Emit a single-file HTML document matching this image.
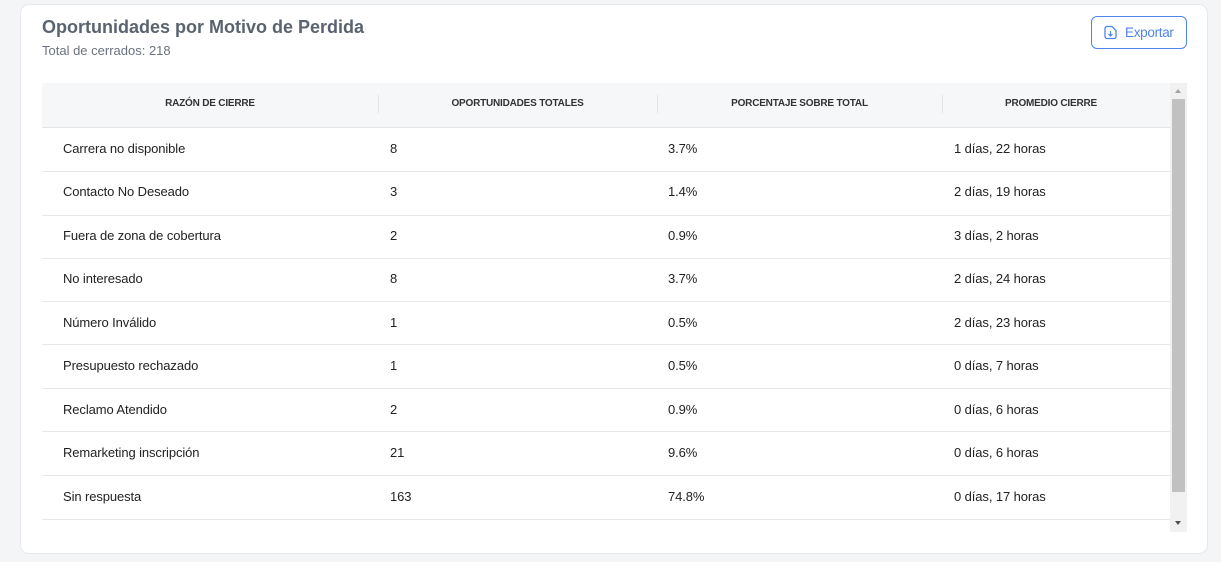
<!DOCTYPE html>
<html><head><meta charset="utf-8"><style>
body{margin:0;width:1221px;height:562px;background:#f4f5f7;font-family:"Liberation Sans",sans-serif;position:relative;overflow:hidden}
.card{position:absolute;left:20px;top:4px;width:1188px;height:550px;background:#fff;border:1px solid #e6e8eb;border-radius:9px;box-sizing:border-box}
.t{position:absolute;left:42px;top:17px;font-size:18px;font-weight:bold;color:#5a6470}
.s{position:absolute;left:42px;top:43px;font-size:13px;color:#6b7380}
.btn{position:absolute;left:1091px;top:16px;width:96px;height:33px;border:1px solid #4e86ee;border-radius:6px;box-sizing:border-box;color:#4e86ee;font-size:13.5px}
.btn span{position:absolute;left:33px;top:8px;letter-spacing:-0.3px}
.hd{position:absolute;left:42px;top:83px;width:1128px;height:44px;background:#f6f7f9;border-bottom:1px solid #e3e5e8}
.h{position:absolute;top:98px;font-size:10px;font-weight:bold;color:#333;text-align:center;letter-spacing:-0.2px}
.dv{position:absolute;top:95px;width:1px;height:18px;background:#e2e4e7}
.row{position:absolute;left:42px;width:1128px;border-bottom:1px solid #e6e8eb;height:43px}
.c{position:absolute;font-size:13px;color:#222;letter-spacing:-0.1px}
.sb{position:absolute;left:1170px;top:83px;width:17px;height:449px;background:#f1f1f1}
.th{position:absolute;left:1172px;top:99px;width:13px;height:393px;background:#c1c1c1}
</style></head><body>
<div class="card"></div>
<div class="t">Oportunidades por Motivo de Perdida</div>
<div class="s">Total de cerrados: 218</div>
<div class="btn"><svg style="position:absolute;left:11px;top:8px" width="15" height="15" viewBox="0 0 15 15"><path d="M4 1.5h5l4 4v6a2 2 0 0 1-2 2H4a2 2 0 0 1-2-2v-8a2 2 0 0 1 2-2z" fill="none" stroke="#4e86ee" stroke-width="1.3"/><path d="M7.5 6v5M5.5 9l2 2 2-2" fill="none" stroke="#4e86ee" stroke-width="1.2"/></svg><span>Exportar</span></div>
<div class="hd"></div>
<div class="h" style="left:42px;width:336px">RAZÓN DE CIERRE</div>
<div class="h" style="left:378px;width:279px">OPORTUNIDADES TOTALES</div>
<div class="h" style="left:657px;width:285px">PORCENTAJE SOBRE TOTAL</div>
<div class="h" style="left:942px;width:218px">PROMEDIO CIERRE</div>
<div class="dv" style="left:378px"></div><div class="dv" style="left:657px"></div><div class="dv" style="left:942px"></div>
<div class="row" style="top:128px"></div><div class="row" style="top:172px"></div><div class="row" style="top:215px"></div><div class="row" style="top:258px"></div><div class="row" style="top:301px"></div><div class="row" style="top:345px"></div><div class="row" style="top:388px"></div><div class="row" style="top:432px"></div><div class="row" style="top:476px"></div>
<div class="c" style="left:63px;top:141px">Carrera no disponible</div><div class="c" style="left:390px;top:141px">8</div><div class="c" style="left:668px;top:141px">3.7%</div><div class="c" style="left:954px;top:141px">1 días, 22 horas</div>
<div class="c" style="left:63px;top:184px">Contacto No Deseado</div><div class="c" style="left:390px;top:184px">3</div><div class="c" style="left:668px;top:184px">1.4%</div><div class="c" style="left:954px;top:184px">2 días, 19 horas</div>
<div class="c" style="left:63px;top:228px">Fuera de zona de cobertura</div><div class="c" style="left:390px;top:228px">2</div><div class="c" style="left:668px;top:228px">0.9%</div><div class="c" style="left:954px;top:228px">3 días, 2 horas</div>
<div class="c" style="left:63px;top:271px">No interesado</div><div class="c" style="left:390px;top:271px">8</div><div class="c" style="left:668px;top:271px">3.7%</div><div class="c" style="left:954px;top:271px">2 días, 24 horas</div>
<div class="c" style="left:63px;top:315px">Número Inválido</div><div class="c" style="left:390px;top:315px">1</div><div class="c" style="left:668px;top:315px">0.5%</div><div class="c" style="left:954px;top:315px">2 días, 23 horas</div>
<div class="c" style="left:63px;top:358px">Presupuesto rechazado</div><div class="c" style="left:390px;top:358px">1</div><div class="c" style="left:668px;top:358px">0.5%</div><div class="c" style="left:954px;top:358px">0 días, 7 horas</div>
<div class="c" style="left:63px;top:402px">Reclamo Atendido</div><div class="c" style="left:390px;top:402px">2</div><div class="c" style="left:668px;top:402px">0.9%</div><div class="c" style="left:954px;top:402px">0 días, 6 horas</div>
<div class="c" style="left:63px;top:445px">Remarketing inscripción</div><div class="c" style="left:390px;top:445px">21</div><div class="c" style="left:668px;top:445px">9.6%</div><div class="c" style="left:954px;top:445px">0 días, 6 horas</div>
<div class="c" style="left:63px;top:489px">Sin respuesta</div><div class="c" style="left:390px;top:489px">163</div><div class="c" style="left:668px;top:489px">74.8%</div><div class="c" style="left:954px;top:489px">0 días, 17 horas</div>
<div class="sb"></div><div class="th"></div>
<div style="position:absolute;left:1175px;top:89px;border:3.5px solid transparent;border-bottom:4px solid #a3a3a3;border-top:0"></div>
<div style="position:absolute;left:1175px;top:521px;border:3.5px solid transparent;border-top:4px solid #505050;border-bottom:0"></div>
</body></html>
